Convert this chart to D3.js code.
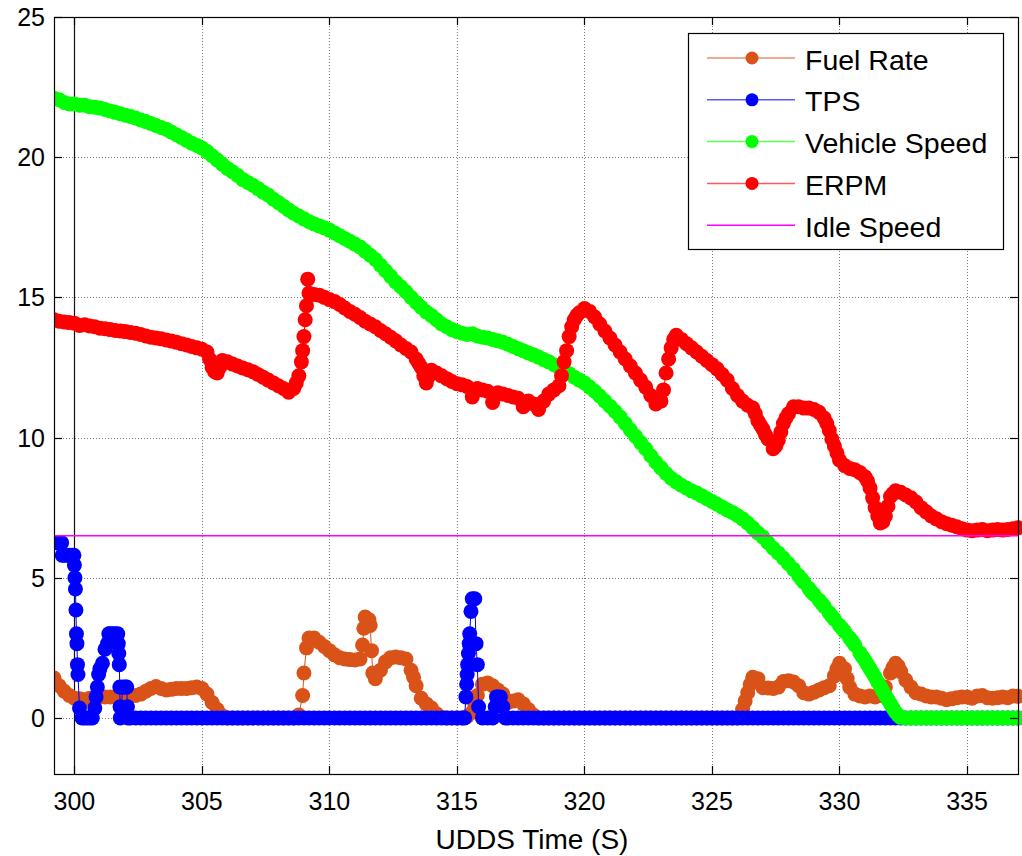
<!DOCTYPE html>
<html><head><meta charset="utf-8">
<script src="https://cdn.jsdelivr.net/npm/d3@7"></script>
<style>body{margin:0;background:#fff} text{font-family:"Liberation Sans",Arial,sans-serif}</style>
</head><body><svg id="c" width="1022" height="856"></svg>
<script>
// ---- sample clock (0.2 s) ----
const time = d3.range(190).map(i => +(299.2 + 0.2 * i).toFixed(2));

// ---- series values on the sample clock ----
const fuelRate = [
1.42,1.15,0.95,0.8,0.7,0.68,0.65,0.7,0.72,0.75,
0.75,0.75,0.75,0.75,0.75,0.78,0.8,0.85,0.95,1.05,
1.12,1.05,1.0,1.02,1.05,1.05,1.05,1.08,1.1,1.05,
0.85,0.55,0.3,0.08,0,0,0,0,0,0,
0,0,0,0,0,0,0,0,0.1,1.6,
2.85,2.85,2.7,2.55,2.4,2.25,2.15,2.1,2.08,2.07,
2.1,3.6,3.3,1.4,1.7,2.0,2.15,2.17,2.15,2.1,
1.7,1.15,0.7,0.5,0.35,0.15,0.02,0,0,0,
0,0.05,0.2,0.8,1.2,1.25,1.15,1.0,0.85,0.55,
0.6,0.65,0.5,0.3,0.1,0,0,0,0,0,
0,0,0,0,0,0,0,0,0,0,
0,0,0,0,0,0,0,0,0,0,
0,0,0,0,0,0,0,0,0,0,
0,0,0,0,0,0.3,0.9,1.45,1.4,1.08,
1.07,1.05,1.1,1.3,1.33,1.28,1.15,0.9,0.85,0.92,
1.0,1.08,1.15,1.5,1.95,1.75,1.1,0.85,0.78,0.75,
0.78,0.75,0.8,1.1,1.6,1.95,1.65,1.35,1.1,0.9,
0.85,0.78,0.75,0.75,0.7,0.65,0.68,0.72,0.75,0.75,
0.7,0.78,0.8,0.72,0.7,0.72,0.75,0.72,0.78,0.77];
const fuelExtraTime = [308.95, 309.1, 311.3, 311.35, 311.45, 311.55, 311.65, 311.7, 313.3, 315.7, 326.3, 326.5, 329.9, 330.3, 332.1, 332.3];
const fuelExtraValues = [0.8, 2.5, 2.6, 3.2, 3.55, 3.5, 2.4, 1.6, 1.45, 0.5, 0.6, 1.2, 1.75, 1.4, 1.8, 1.85];

const tps = [
6.25,6.25,5.8,5.8,5.45,0.35,0,0,0.35,1.75,
2.45,3.0,3.0,0,1.1,0,0,0,0,0,
0,0,0,0,0,0,0,0,0,0,
0,0,0,0,0,0,0,0,0,0,
0,0,0,0,0,0,0,0,0,0,
0,0,0,0,0,0,0,0,0,0,
0,0,0,0,0,0,0,0,0,0,
0,0,0,0,0,0,0,0,0,0,
0,1.55,4.25,1.9,0,0,0,0.75,0.4,0,
0,0,0,0,0,0,0,0,0,0,
0,0,0,0,0,0,0,0,0,0,
0,0,0,0,0,0,0,0,0,0,
0,0,0,0,0,0,0,0,0,0,
0,0,0,0,0,0,0,0,0,0,
0,0,0,0,0,0,0,0,0,0,
0,0,0,0,0,0,0,0,0,0,
0,0,0,0,0,0,0,0,0,0,
0,0,0,0,0,0,0,0,0,0,
0,0,0,0,0,0,0,0,0,0];
const tpsExtraTime = [299.3,299.5,299.52,299.7,299.9,299.98,300.02,300.04,300.06,300.08,300.1,300.12,300.14,300.3,300.5,300.7,300.85,300.9,300.95,301.1,301.3,301.35,301.5,301.7,301.72,301.74,301.76,301.78,301.79,301.9,302.05,302.08,302.1,315.3,315.35,315.38,315.42,315.45,315.48,315.5,315.55,315.7,315.75,315.85,316.5,316.55,316.7,316.9];
const tpsExtraValues = [6.25,6.25,5.8,5.8,5.8,5.8,5.0,4.6,3.85,3.0,2.65,1.9,1.55,0,0,0,0.75,1.1,1.55,1.95,2.65,3.0,3.0,3.0,2.65,2.3,1.9,1.1,0.4,1.1,1.1,0.4,0,0,0.75,1.2,1.9,2.3,2.65,3.0,3.8,4.25,2.65,0.4,0.4,0.75,0.75,0];

const vehicleSpeed = [
22.1,22.05,21.95,21.9,21.9,21.85,21.85,21.8,21.78,21.75,
21.7,21.65,21.6,21.55,21.5,21.45,21.4,21.33,21.27,21.2,
21.13,21.06,21.0,20.9,20.8,20.7,20.6,20.5,20.42,20.33,
20.2,20.05,19.9,19.75,19.6,19.48,19.35,19.2,19.1,19.0,
18.88,18.75,18.65,18.5,18.38,18.25,18.12,18.0,17.9,17.8,
17.7,17.62,17.55,17.48,17.4,17.3,17.2,17.1,17.0,16.9,
16.8,16.65,16.5,16.35,16.15,15.95,15.75,15.55,15.38,15.2,
15.0,14.82,14.65,14.48,14.35,14.2,14.05,13.95,13.85,13.78,
13.72,13.68,13.7,13.62,13.58,13.55,13.5,13.45,13.4,13.33,
13.25,13.17,13.1,13.02,12.95,12.87,12.78,12.7,12.6,12.5,
12.4,12.28,12.15,12.05,11.95,11.8,11.65,11.48,11.3,11.12,
10.93,10.73,10.5,10.27,10.05,9.82,9.6,9.35,9.12,8.92,
8.72,8.55,8.42,8.3,8.2,8.1,8.02,7.92,7.82,7.72,
7.62,7.52,7.42,7.33,7.22,7.1,6.95,6.78,6.6,6.45,
6.25,6.05,5.88,5.7,5.5,5.3,5.07,4.85,4.62,4.4,
4.2,3.98,3.75,3.52,3.3,3.08,2.85,2.6,2.32,2.05,
1.75,1.45,1.12,0.8,0.5,0.2,0.02,0,0,0,
0,0,0,0,0,0,0,0,0,0,
0,0,0,0,0,0,0,0,0,0];
const speedExtraTime = [328.5, 328.9, 329.3, 329.7, 330.1, 330.5, 330.9, 331.1, 331.3, 331.5, 331.7, 331.9, 332.1, 332.3];
const speedExtraValues = [4.96, 4.5, 4.09, 3.63, 3.19, 2.73, 2.18, 1.9, 1.6, 1.28, 0.96, 0.65, 0.35, 0.1];

const erpm = [
14.2,14.15,14.12,14.1,14.08,14.0,14.02,13.98,13.95,13.9,
13.88,13.85,13.82,13.8,13.78,13.75,13.72,13.68,13.62,13.58,
13.55,13.52,13.48,13.44,13.4,13.35,13.3,13.25,13.2,13.15,
13.05,12.5,12.3,12.75,12.7,12.62,12.55,12.48,12.42,12.35,
12.25,12.15,12.05,11.95,11.85,11.75,11.62,11.75,12.2,13.6,
15.15,15.1,15.08,15.0,14.92,14.85,14.75,14.62,14.5,14.4,
14.28,14.15,14.05,13.95,13.82,13.7,13.58,13.45,13.3,13.18,
13.05,12.8,12.5,11.95,12.4,12.3,12.2,12.1,12.0,11.92,
11.88,11.82,11.45,11.75,11.7,11.65,11.25,11.6,11.55,11.5,
11.45,11.4,11.1,11.3,11.2,11.0,11.3,11.55,11.7,11.85,
12.7,13.6,14.2,14.45,14.6,14.5,14.3,14.05,13.8,13.55,
13.3,13.05,12.8,12.55,12.3,12.05,11.8,11.5,11.2,11.3,
12.3,13.2,13.65,13.5,13.35,13.2,13.05,12.9,12.75,12.6,
12.45,12.25,12.05,11.75,11.5,11.3,11.15,11.05,10.6,10.3,
9.95,9.6,9.9,10.5,10.85,11.1,11.1,11.05,11.05,11.0,
10.9,10.7,10.25,9.7,9.2,9.0,8.9,8.85,8.75,8.6,
8.2,7.5,6.95,7.2,7.9,8.1,8.05,7.95,7.85,7.7,
7.5,7.35,7.2,7.1,7.0,6.93,6.87,6.82,6.75,6.7,
6.68,6.7,6.72,6.68,6.7,6.72,6.7,6.72,6.75,6.78];
const erpmExtraTime = [305.3, 305.5, 305.7, 308.7, 308.9, 308.95, 309.05, 309.1, 309.15, 313.5, 313.7, 313.9,
  319.1, 319.3, 319.5, 319.7, 323.1, 323.3, 323.5, 326.7, 326.9, 327.1, 327.5, 327.7, 327.9,
  329.5, 329.7, 329.9, 331.1, 331.3, 331.5, 331.7, 331.9, 332.1];
const erpmExtraValues = [12.8, 12.35, 12.5, 11.95, 12.7, 13.1, 14.2, 14.7, 15.65, 12.65, 12.2, 12.2,
  12.2, 13.1, 13.95, 14.35, 11.7, 12.8, 13.5, 10.85, 10.45, 10.1, 9.7, 10.2, 10.7,
  10.5, 9.95, 9.45, 8.45, 7.85, 7.2, 7.0, 7.55, 8.0];

const idleSpeed = 6.5;
const markerLineTime = 300;

const xTicks = [300,305,310,315,320,325,330,335];
const yTicks = [0,5,10,15,20,25];
const seriesNames = ["Fuel Rate","TPS","Vehicle Speed","ERPM","Idle Speed"];
const colors = ["#D95319","#0000FF","#00FF00","#FF0000","#FF00FF"];
const xLabel = "UDDS Time (S)";

// ---- build ----
function merge(vals, et = [], ev = []) {
  const pts = time.map((t, i) => [t, vals[i]]);
  et.forEach((t, i) => pts.push([t, ev[i]]));
  pts.sort((a, b) => a[0] - b[0]);
  return pts;
}
const data = [
  merge(fuelRate, fuelExtraTime, fuelExtraValues),
  merge(tps, tpsExtraTime, tpsExtraValues),
  merge(vehicleSpeed, speedExtraTime, speedExtraValues),
  merge(erpm, erpmExtraTime, erpmExtraValues)
];

const svg = d3.select("#c");
const L = 54, R = 1018, T = 17, B = 774;
const x = d3.scaleLinear().domain([299.2, 337]).range([L, R]);
const y = d3.scaleLinear().domain([-2, 25]).range([B, T]);

svg.append("rect").attr("width", 1022).attr("height", 856).attr("fill", "#fff");

// grid
const grid = svg.append("g").attr("stroke", "#7a7a7a").attr("stroke-width", 1).attr("stroke-dasharray", "1,2");
xTicks.forEach(t => grid.append("line").attr("x1", Math.round(x(t)) + 0.5).attr("x2", Math.round(x(t)) + 0.5).attr("y1", T).attr("y2", B));
yTicks.forEach(v => grid.append("line").attr("y1", Math.round(y(v)) + 0.5).attr("y2", Math.round(y(v)) + 0.5).attr("x1", L).attr("x2", R));

// solid vertical line at t=300
svg.append("line").attr("x1", Math.round(x(markerLineTime)) + 0.5).attr("x2", Math.round(x(markerLineTime)) + 0.5)
  .attr("y1", T).attr("y2", B).attr("stroke", "#111").attr("stroke-width", 1.2);

svg.append("clipPath").attr("id", "clp").append("rect").attr("x", L).attr("y", 0).attr("width", 1022 - L).attr("height", 856);
const plot = svg.append("g").attr("clip-path", "url(#clp)");

const line = d3.line().x(d => x(d[0])).y(d => y(d[1]));
data.forEach((pts, k) => {
  const g = plot.append("g");
  g.append("path").attr("d", line(pts)).attr("fill", "none").attr("stroke", colors[k]).attr("stroke-width", 1);
  g.selectAll("circle").data(pts).join("circle")
    .attr("cx", d => x(d[0])).attr("cy", d => y(d[1])).attr("r", 7.5).attr("fill", colors[k]);
});
// idle speed line
plot.append("line").attr("x1", x(299.2)).attr("x2", x(337)).attr("y1", y(idleSpeed)).attr("y2", y(idleSpeed))
  .attr("stroke", colors[4]).attr("stroke-width", 1.5);

// axes box
svg.append("rect").attr("x", L + 0.5).attr("y", T + 0.5).attr("width", R - L).attr("height", B - T)
  .attr("fill", "none").attr("stroke", "#000").attr("stroke-width", 1.2);
const tk = svg.append("g").attr("stroke", "#000").attr("stroke-width", 1.2);
xTicks.forEach(t => {
  const xx = Math.round(x(t)) + 0.5;
  tk.append("line").attr("x1", xx).attr("x2", xx).attr("y1", B).attr("y2", B - 8);
  tk.append("line").attr("x1", xx).attr("x2", xx).attr("y1", T).attr("y2", T + 8);
});
yTicks.forEach(v => {
  const yy = Math.round(y(v)) + 0.5;
  tk.append("line").attr("x1", L).attr("x2", L + 8).attr("y1", yy).attr("y2", yy);
  tk.append("line").attr("x1", R).attr("x2", R - 8).attr("y1", yy).attr("y2", yy);
});

// tick labels
svg.append("g").selectAll("text").data(xTicks).join("text")
  .attr("x", d => x(d)).attr("y", 810).attr("text-anchor", "middle").attr("font-size", 25).text(d => d);
svg.append("g").selectAll("text").data(yTicks).join("text")
  .attr("x", 45).attr("y", d => y(d) + 9).attr("text-anchor", "end").attr("font-size", 25).text(d => d);
svg.append("text").attr("x", 532).attr("y", 849).attr("text-anchor", "middle").attr("font-size", 28).text(xLabel);

// legend
const lg = svg.append("g");
lg.append("rect").attr("x", 688.5).attr("y", 33.5).attr("width", 315).attr("height", 216)
  .attr("fill", "#fff").attr("stroke", "#000").attr("stroke-width", 1.2);
seriesNames.forEach((name, i) => {
  const ry = 58 + i * 41.8;
  lg.append("line").attr("x1", 707).attr("x2", 795).attr("y1", ry).attr("y2", ry)
    .attr("stroke", colors[i]).attr("stroke-width", 1.5).attr("stroke-opacity", i === 4 ? 1 : 0.65);
  if (i < 4) lg.append("circle").attr("cx", 752).attr("cy", ry).attr("r", 6.5).attr("fill", colors[i]);
  lg.append("text").attr("x", 805).attr("y", ry + 11.5).attr("font-size", 28.5).text(name);
});
</script></body></html>
